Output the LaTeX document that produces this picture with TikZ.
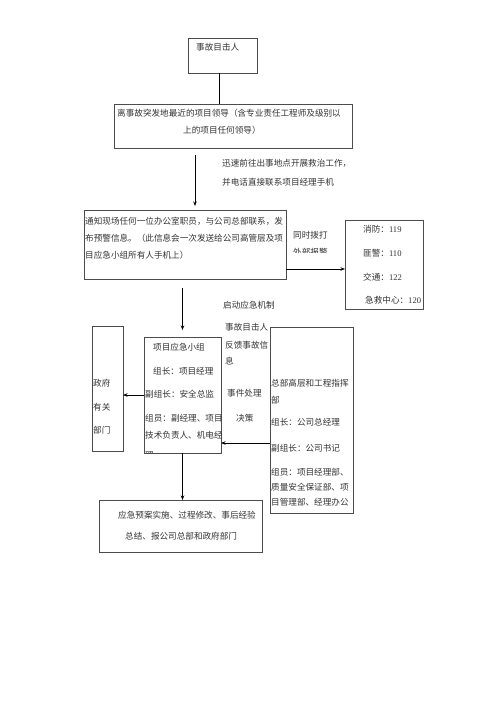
\documentclass[tikz,border=0pt]{standalone}
\usepackage{fontspec}
\setmainfont{Liberation Serif}
\newfontfamily\cjk{Noto Sans CJK SC}
\usetikzlibrary{arrows.meta}
\tikzset{
  box/.style={draw=black!70, line width=0.7pt, inner sep=0pt, outer sep=0pt},
  txt/.style={anchor=west, inner sep=0pt, text=black!80, font=\cjk\fontsize{8.6}{10}\selectfont},
  arr/.style={-{Stealth[length=4.5pt,width=3.5pt]}, line width=0.7pt},
  lnk/.style={line width=0.7pt}
}
\begin{document}
\begin{tikzpicture}[x=1pt,y=-1pt]
  \useasboundingbox[fill=white] (0,0) rectangle (500,707);
  % boxes
  \node[box, minimum width=69pt, minimum height=35pt] (witness) at (222.5,55.5) {};
  \node[box, minimum width=238pt, minimum height=44pt] (leader) at (233,126) {};
  \node[box, minimum width=202pt, minimum height=69pt] (notify) at (185,244.5) {};
  \node[box, minimum width=78pt, minimum height=89pt] (alarm) at (384,264.5) {};
  \node[box, minimum width=77pt, minimum height=116pt] (proj) at (182.5,395) {};
  \node[box, minimum width=31pt, minimum height=125pt] (gov) at (107.5,388.5) {};
  \node[box, minimum width=83pt, minimum height=186pt] (hq) at (311.5,420) {};
  \node[box, minimum width=163pt, minimum height=52pt] (final) at (180.5,526) {};
  % box texts
  \node[txt] (witness-t) at (196,47) {事故目击人};
  \node[txt] (leader-t1) at (117,113) {离事故突发地最近的项目领导（含专业责任工程师及级别以};
  \node[txt] (leader-t2) at (183,130) {上的项目任何领导）};
  \node[txt] (notify-t1) at (85,221) {通知现场任何一位办公室职员，与公司总部联系，发};
  \node[txt] (notify-t2) at (85,238) {布预警信息。（此信息会一次发送给公司高管层及项};
  \node[txt] (notify-t3) at (85,255) {目应急小组所有人手机上）};
  \node[txt] (alarm-t1) at (363,229) {消防：{\rmfamily 119}};
  \node[txt] (alarm-t2) at (363,253) {匪警：{\rmfamily 110}};
  \node[txt] (alarm-t3) at (363,277) {交通：{\rmfamily 122}};
  \node[txt] (alarm-t4) at (365,300) {急救中心：{\rmfamily 120}};
  \node[txt] (proj-t1) at (153,347) {项目应急小组};
  \node[txt] (proj-t2) at (153,371) {组长：项目经理};
  \node[txt] (proj-t3) at (145,394) {副组长：安全总监};
  \node[txt] (proj-t4) at (145,418) {组员：副经理、项目};
  \node[txt] (proj-t5) at (145,435) {技术负责人、机电经};
  \begin{scope}
    \clip (144,440) rectangle (221,452.5);
    \node[txt] (proj-t6) at (145,455.5) {理};
  \end{scope}
  \node[txt] (gov-t1) at (93,383) {政府};
  \node[txt] (gov-t2) at (93,407) {有关};
  \node[txt] (gov-t3) at (93,430) {部门};
  \node[txt] (hq-t1) at (271,383) {总部高层和工程指挥};
  \node[txt] (hq-t2) at (271,400) {部};
  \node[txt] (hq-t3) at (271,422) {组长：公司总经理};
  \node[txt] (hq-t4) at (271,448) {副组长：公司书记};
  \node[txt] (hq-t5) at (271,472) {组员：项目经理部、};
  \node[txt] (hq-t6) at (271,487) {质量安全保证部、项};
  \node[txt] (hq-t7) at (271,502) {目管理部、经理办公};
  \node[txt] (final-t1) at (118,515) {应急预案实施、过程修改、事后经验};
  \node[txt] (final-t2) at (125,536) {总结、报公司总部和政府部门};
  % free texts
  \node[txt] (rush1) at (222,163) {迅速前往出事地点开展救治工作，};
  \node[txt] (rush2) at (222,182) {并电话直接联系项目经理手机};
  \node[txt] (call1) at (293,235) {同时拨打};
  \begin{scope}
    \clip (288,244) rectangle (340,252.5);
    \node[txt] (call2) at (293,252.5) {外部报警};
  \end{scope}
  \node[txt] (start) at (223,305) {启动应急机制};
  \node[txt] (feed1) at (225,327) {事故目击人};
  \node[txt] (feed2) at (225,345) {反馈事故信};
  \node[txt] (feed3) at (225,361) {息};
  \node[txt] (deal1) at (227,393) {事件处理};
  \node[txt] (deal2) at (236,418) {决策};
  % connectors
  \coordinate (x0) at (219,0);
  \coordinate (x1) at (195,0);
  \coordinate (y2) at (0,269);
  \coordinate (y3) at (0,443);
  \draw[lnk] (witness.south -| x0) -- (leader.north -| x0);
  \draw[arr, shorten <=7pt, shorten >=4pt] (leader.south -| x1) -- (notify.north -| x1);
  \draw[arr] (notify.east |- y2) -- (alarm.west |- y2);
  \draw[arr, shorten <=9pt, shorten >=7pt] (notify.south -| proj.north) -- (proj.north);
  \draw[arr] (proj.west) -- (gov.east |- proj.west);
  \draw[arr] (hq.west |- y3) -- (proj.east |- y3);
  \draw[arr] (proj.south) -- (final.north -| proj.south);
\end{tikzpicture}
\end{document}
